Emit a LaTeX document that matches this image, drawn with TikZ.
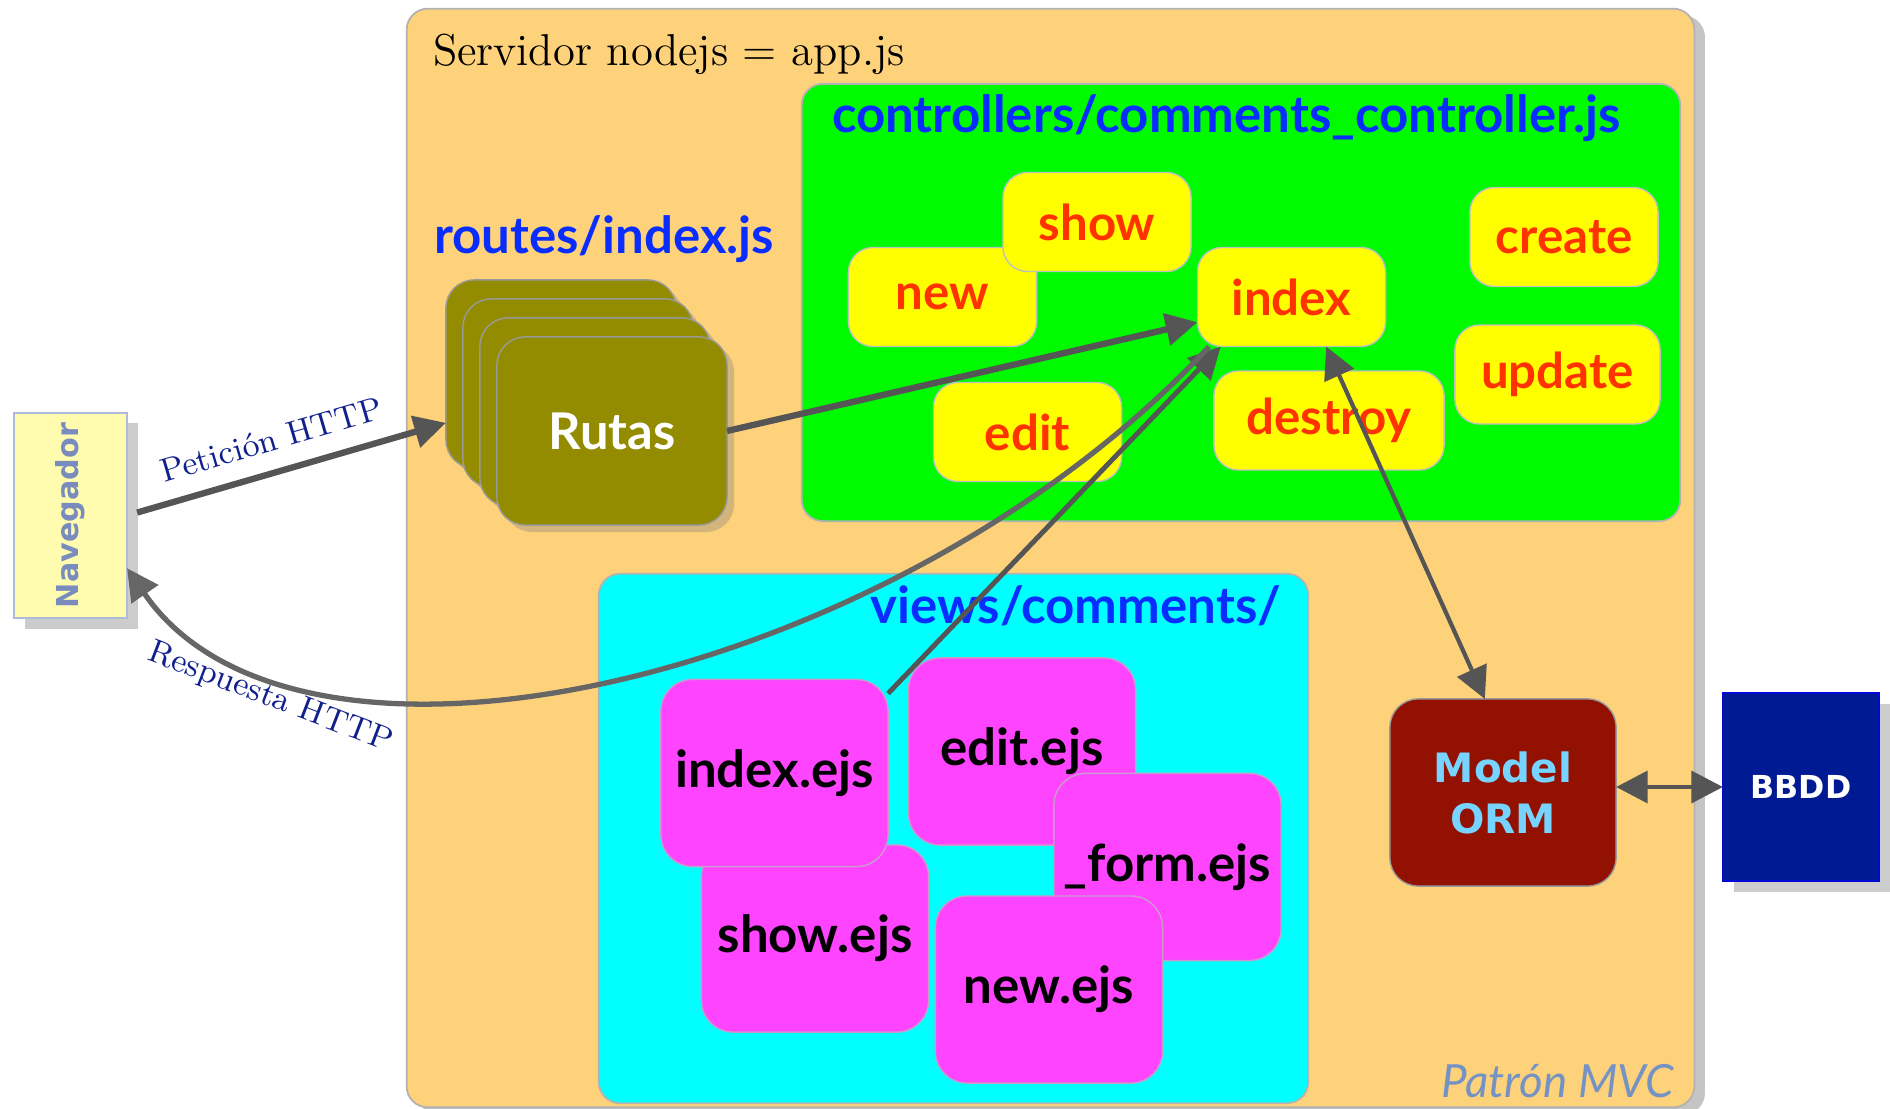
\documentclass[tikz,border=0pt]{standalone}
\usepackage{fontspec}
\usepackage{tikz}
\usetikzlibrary{arrows.meta, positioning, shadows}
\newfontfamily\gillsans{Lato}
\newfontfamily\verdana{DejaVu Sans}
\definecolor{serverorange}{RGB}{254, 210, 122}
\definecolor{ctrlgreen}{RGB}{0, 250, 0}
\definecolor{viewcyan}{RGB}{0, 255, 255}
\definecolor{actionyellow}{RGB}{255, 255, 0}
\definecolor{actionred}{RGB}{255, 51, 0}
\definecolor{labelblue}{RGB}{10, 45, 255}
\definecolor{ejsmagenta}{RGB}{255, 68, 255}
\definecolor{rutasolive}{RGB}{148, 140, 0}
\definecolor{ormred}{RGB}{146, 17, 0}
\definecolor{ormtext}{RGB}{119, 211, 255}
\definecolor{bbddblue}{RGB}{0, 26, 147}
\definecolor{navyellow}{RGB}{255, 252, 176}
\definecolor{navtext}{RGB}{122, 140, 190}
\definecolor{httpnavy}{RGB}{16, 32, 140}
\definecolor{mvcblue}{RGB}{117, 146, 196}
\definecolor{arrowgray}{RGB}{85, 85, 85}

\begin{document}
\begin{tikzpicture}[
    x=0.01cm, y=-0.01cm,
    every node/.style={inner sep=0pt, outer sep=0pt},
    container/.style={rectangle, rounded corners=6pt, draw=black!30, line width=0.5pt},
    heading/.style={text=labelblue, font=\gillsans\bfseries\fontsize{14.5}{17}\selectfont},
    action/.style={rectangle, rounded corners=7pt, draw=black!25, fill=actionyellow, minimum width=1.88cm, minimum height=0.99cm, text=actionred, font=\gillsans\bfseries\fontsize{14}{17}\selectfont},
    ejs/.style={rectangle, rounded corners=9pt, draw=violet!40, fill=ejsmagenta, minimum width=2.27cm, minimum height=1.87cm, font=\gillsans\bfseries\fontsize{14.5}{17}\selectfont},
    rutabox/.style={rectangle, rounded corners=8pt, draw=black!40, fill=rutasolive, minimum width=2.3cm, minimum height=1.88cm, drop shadow={shadow xshift=2pt, shadow yshift=-2pt, opacity=.35}},
    http/.style={text=httpnavy, font=\fontsize{9.4}{11}\selectfont},
    arrow/.style={->, line width=1.8pt, draw=arrowgray, >={Triangle[length=9pt, width=9pt]}}
]
    \useasboundingbox[fill=white] (0,0) rectangle (1890,1109);

    % servidor
    \node[container, fill=serverorange, minimum width=12.87cm, minimum height=10.98cm, drop shadow={shadow xshift=3pt, shadow yshift=-2pt, opacity=.45}] (server) at (1050.5,558) {};
    \node[anchor=base west, font=\fontsize{12.7}{15}\selectfont] (title) at (433,65) {Servidor nodejs = app.js};

    % rutas
    \node[heading, anchor=base west] (routeslabel) at (434,253) {routes/index.js};
    \foreach \k in {3,2,1} {
        \node[rutabox] (rutas\k) at (612-17*\k, 431-19*\k) {};
    }
    \node[rutabox, text=white, font=\gillsans\bfseries\fontsize{14.4}{17}\selectfont] (rutas) at (612,431) {Rutas};

    % controlador
    \node[container, fill=ctrlgreen, minimum width=8.78cm, minimum height=4.37cm] (ctrl) at (1241,302.5) {};
    \node[heading, anchor=base west] (ctrllabel) at (832,133) {controllers/comments\_controller.js};
    \node[action] (new) at (942.5,297) {new};
    \node[action] (show) at (1097,222) {show};
    \node[action] (idx) at (1291.5,297) {index};
    \node[action] (create) at (1564,237) {create};
    \node[action, minimum width=2.05cm] (update) at (1557.5,374.5) {update};
    \node[action] (edit) at (1027.5,432) {edit};
    \node[action, minimum width=2.3cm] (destroy) at (1329,420.5) {destroy};

    % vistas
    \node[container, fill=viewcyan, minimum width=7.09cm, minimum height=5.29cm] (views) at (953.5,838.5) {};
    \node[heading, anchor=base east] (viewslabel) at (1281,623) {views/comments/};
    \node[ejs] (showejs) at (815,938.5) {show.ejs};
    \node[ejs] (idxejs) at (774.5,773) {index.ejs};
    \node[ejs] (editejs) at (1022,751.5) {edit.ejs};
    \node[ejs] (formejs) at (1167.5,867) {\_form.ejs};
    \node[ejs] (newejs) at (1049,989.5) {new.ejs};

    % modelo y base de datos
    \node[rectangle, rounded corners=8pt, draw=black!40, fill=ormred, minimum width=2.26cm, minimum height=1.87cm, align=center, text=ormtext, font=\verdana\bfseries\fontsize{11.5}{14.5}\selectfont] (orm) at (1503,792.5) {Model\\ORM};
    \node[rectangle, draw=blue!60!bbddblue, fill=bbddblue, minimum width=1.56cm, minimum height=1.88cm, text=white, font=\verdana\bfseries\fontsize{9}{11}\selectfont, drop shadow={shadow xshift=3pt, shadow yshift=-3pt, opacity=.4}] (bbdd) at (1801,787) {BBDD};
    \node[anchor=base east, text=mvcblue, font=\gillsans\itshape\fontsize{13}{15}\selectfont] (mvclabel) at (1674,1097) {Patrón MVC};

    % navegador
    \node[rectangle, draw=navtext!60, line width=0.8pt, fill=navyellow, minimum width=1.13cm, minimum height=2.05cm, drop shadow={shadow xshift=3pt, shadow yshift=-3pt, opacity=.4}] (nav) at (70.5,515.5) {};
    \node[rotate=90, text=navtext, font=\verdana\bfseries\fontsize{8.6}{10}\selectfont] (navlabel) at (nav.center) {Navegador};

    % flechas
    \draw[arrow, shorten <=3pt] (nav.east) -- node[http, pos=0.48, sloped, above=6pt] (reqlabel) {Petición HTTP} (rutas3.203);
    \draw[arrow] (rutas.east) -- (idx.195);
    \draw[arrow, line width=1.4pt] (idxejs.35) -- (idx.215);
    \draw[arrow, draw=black!60, line width=1.5pt] (idx.211) .. controls (900,680) and (300,820) .. (nav.-43);
    \node[http, rotate=-21] (resplabel) at (270,698) {Respuesta HTTP};
    \draw[arrow, <->, line width=1.2pt] (idx.-55) -- (orm.101);
    \draw[arrow, <->, line width=1.4pt] (bbdd -| orm.east) -- (bbdd.west);
\end{tikzpicture}
\end{document}
